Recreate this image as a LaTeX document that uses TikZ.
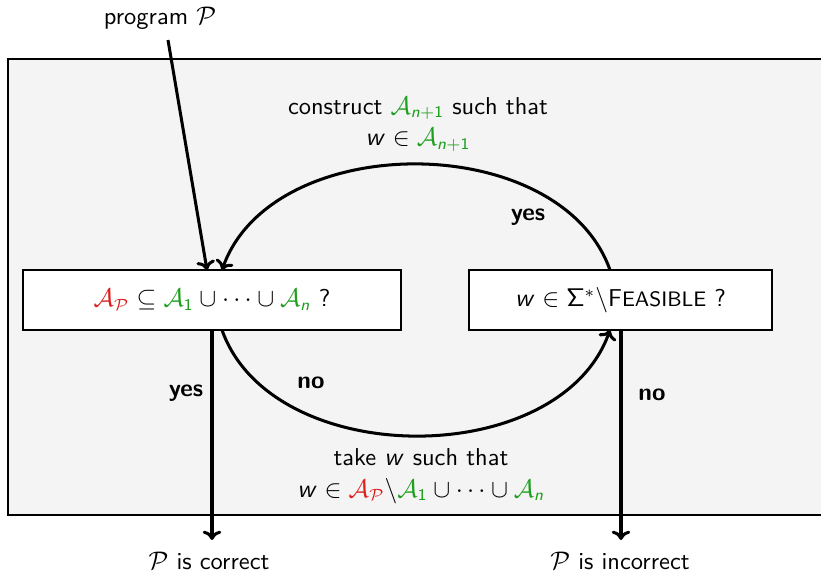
\documentclass[tikz,border=0pt]{standalone}
\usetikzlibrary{arrows.meta}
\renewcommand\familydefault{\sfdefault}
\DeclareMathAlphabet{\mathsfit}{OT1}{cmss}{m}{sl}
\newcommand\ww{\mathsfit{w}}
\definecolor{myred}{RGB}{222,30,30}
\definecolor{mygreen}{RGB}{30,160,30}
\definecolor{bggray}{RGB}{244,244,244}
\newcommand\AP{\textcolor{myred}{\mathcal{A}_{\mathcal{P}}}}
\newcommand\Aone{\textcolor{mygreen}{\mathcal{A}_{\mathsf{1}}}}
\newcommand\An{\textcolor{mygreen}{\mathcal{A}_{\mathsfit{n}}}}
\newcommand\Anp{\textcolor{mygreen}{\mathcal{A}_{\mathsfit{n}\mathsf{+1}}}}
\begin{document}
\begin{tikzpicture}[x=0.43pt,y=-0.43pt,
  font=\fontsize{10.5}{12.6}\selectfont,
  box/.style={draw,fill=white,line width=0.6pt,minimum width=378*0.43pt,minimum height=60*0.43pt,inner sep=0pt},
  flow/.style={line width=1.3pt,-{To[length=4pt,width=8pt]}},
  lbl/.style={font=\fontsize{10.5}{12.6}\selectfont\bfseries,inner sep=1pt},
  txt/.style={inner sep=1pt,align=center}]
\useasboundingbox (0,0) rectangle (821,572);
\draw[fill=bggray,line width=0.5pt] (8,59) rectangle (840,515);
\node[box] (L) at (212,300) {$\AP\subseteq\Aone\cup\cdots\cup\An$ ?};
\node[box,minimum width=303*0.43pt] (R) at (620.5,300) {$\ww\in\mathsf{\Sigma}^*\backslash$F{\small EASIBLE} ?};
\node[txt] (prog) at (160,18) {program $\mathcal{P}$};
\node[txt] (ok) at (209,561) {$\mathcal{P}$ is correct};
\node[txt] (nok) at (620,561) {$\mathcal{P}$ is incorrect};
\node[txt] (top) at (418,124) {construct $\Anp$ such that\\[1pt] $\ww\in\Anp$};
\node[txt] (bot) at (421,476) {take $\ww$ such that\\[1pt] $\ww\in\AP\backslash\Aone\cup\cdots\cup\An$};
\node[lbl] (yes1) at (528,217) {yes};
\node[lbl] (yes2) at (186,393) {yes};
\node[lbl] (no1) at (311,383) {no};
\node[lbl] (no2) at (652,395) {no};
\coordinate (ps) at (168,40);
\coordinate (Lin) at (207,270);
\coordinate (Lin2) at (222,270);
\coordinate (Lout) at (222,330);
\coordinate (Ldown) at (212,330);
\coordinate (Rtop) at (610,270);
\coordinate (Rin) at (610,330);
\coordinate (Rdown) at (621,330);
\coordinate (okc) at (212,540);
\coordinate (nokc) at (621,540);
\draw[flow] (ps) -- (Lin);
\draw[flow] (Rtop) .. controls +(-50,-141) and +(50,-141) .. (Lin2);
\draw[flow] (Lout) .. controls +(50,141) and +(-50,141) .. (Rin);
\draw[flow] (Ldown) -- (okc);
\draw[flow] (Rdown) -- (nokc);
\end{tikzpicture}
\end{document}
